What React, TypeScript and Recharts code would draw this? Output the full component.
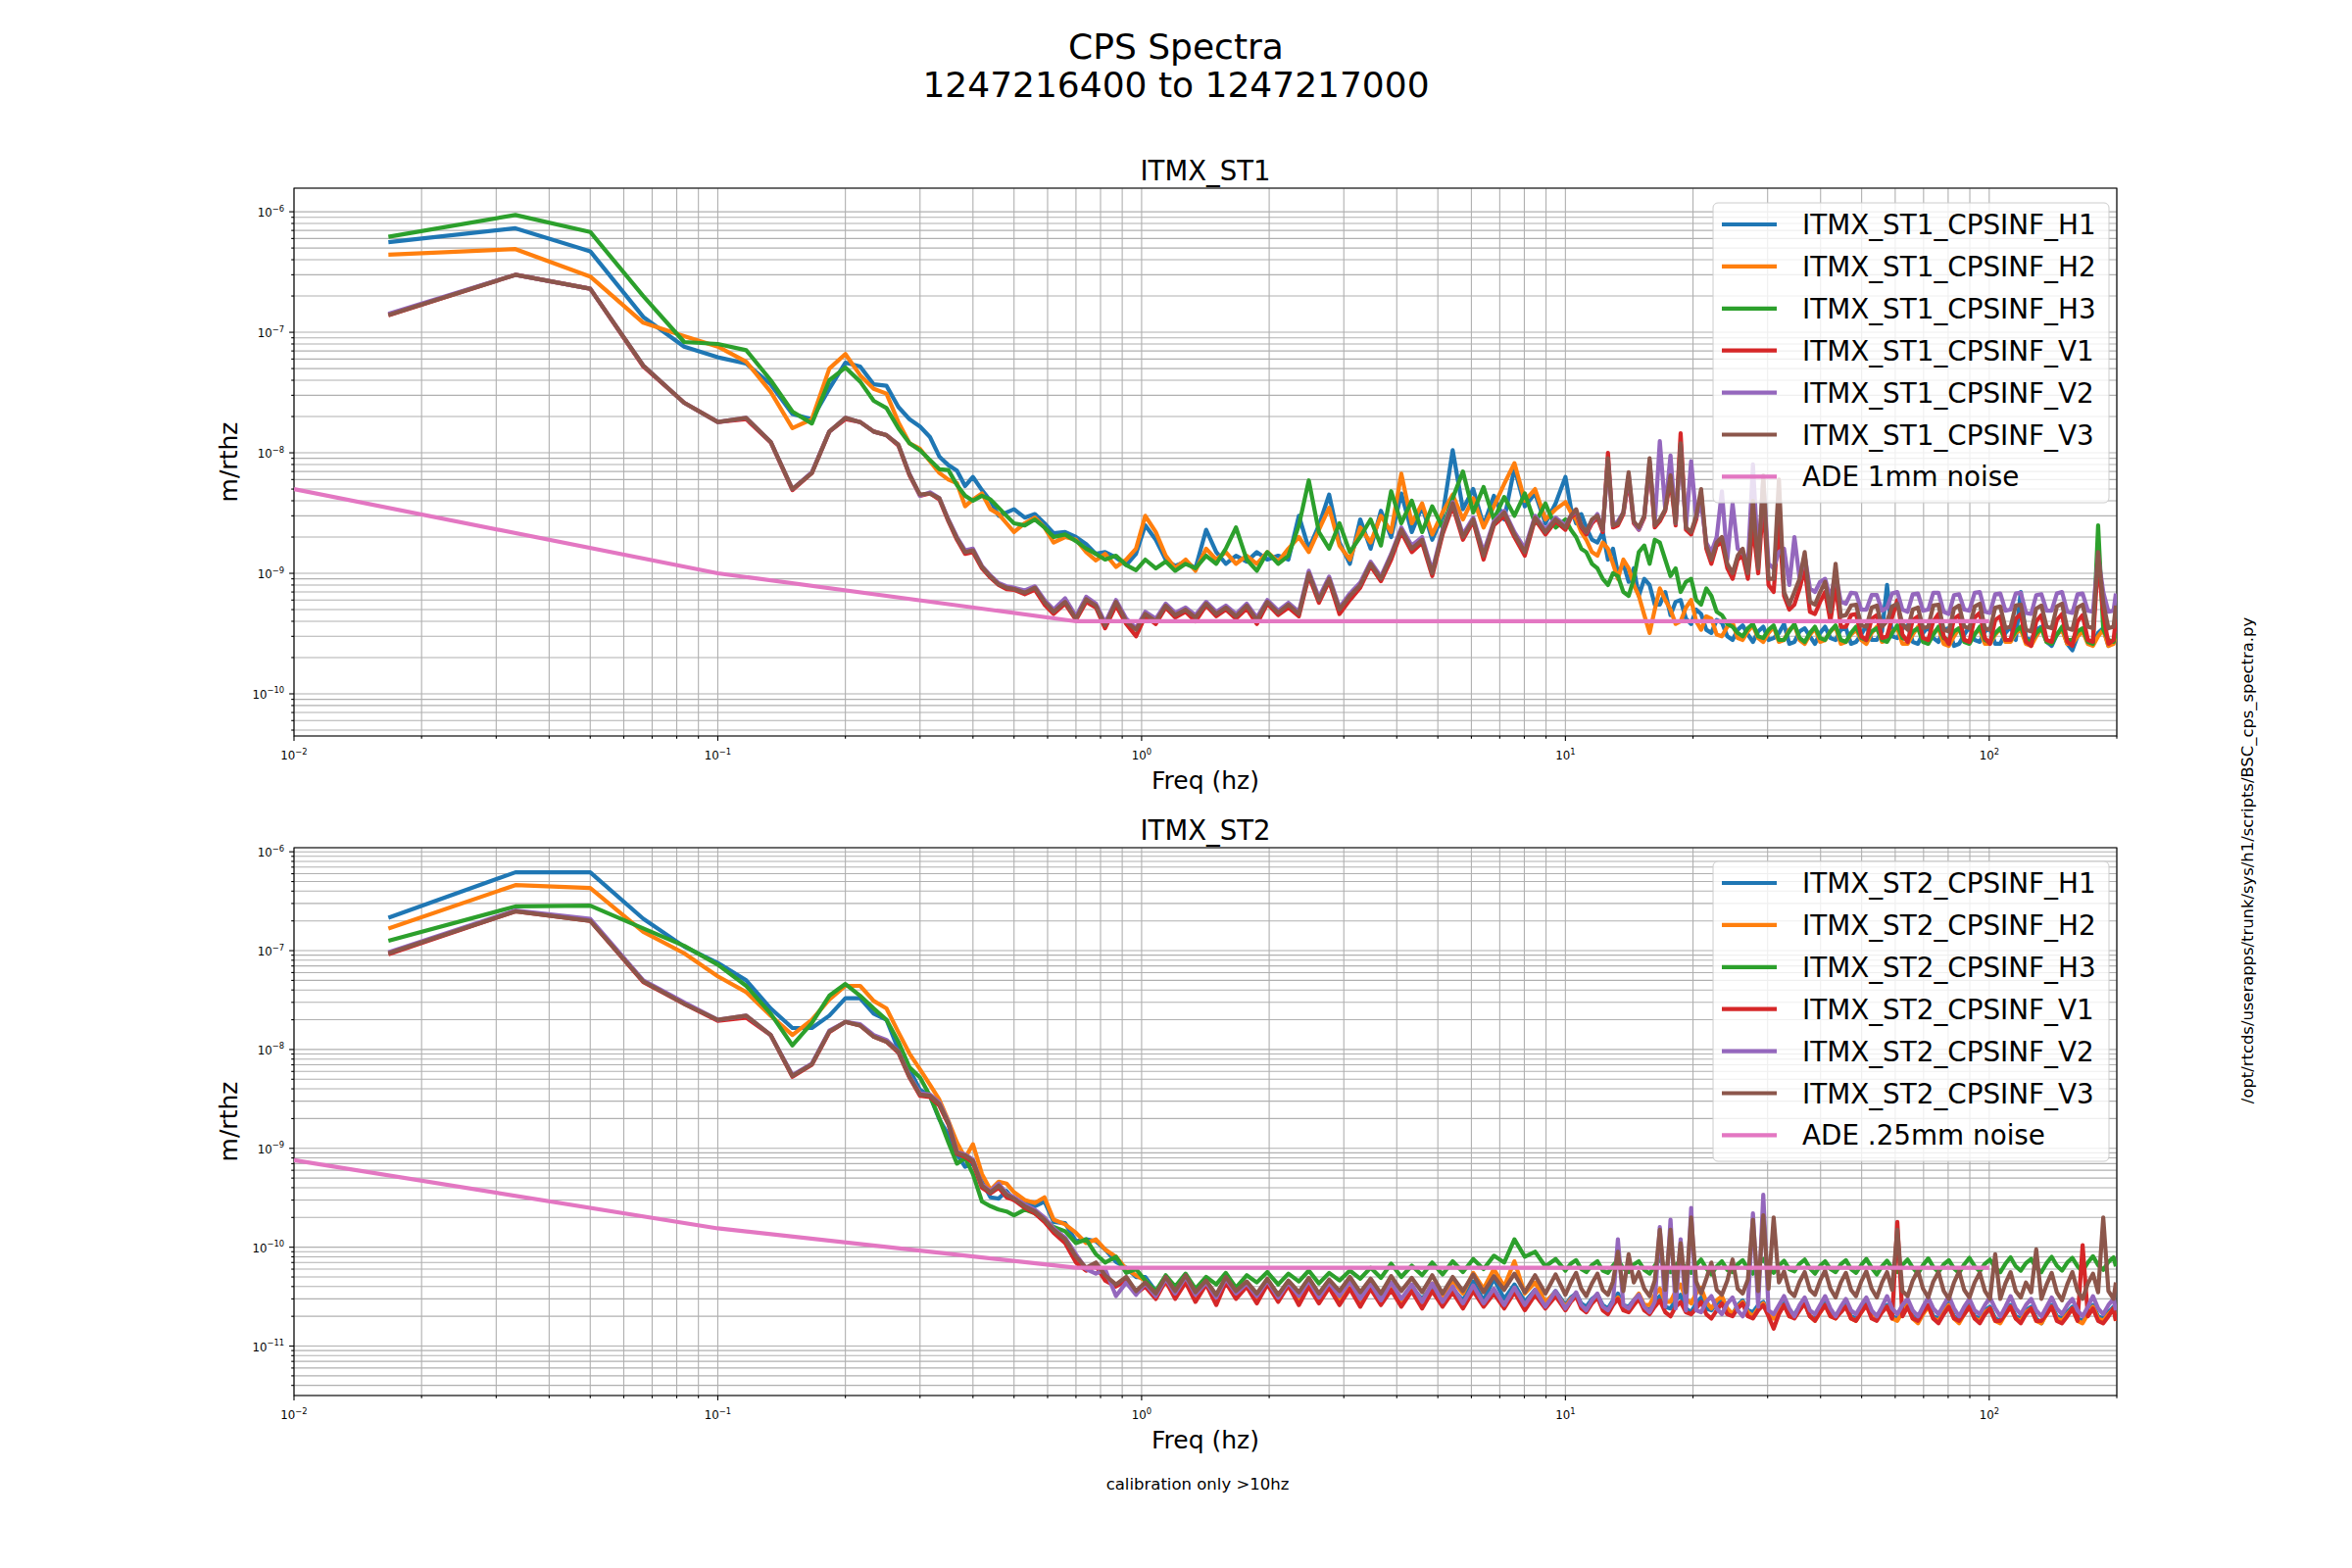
import React from "react";
import { LineChart, Line, XAxis, YAxis, CartesianGrid, ReferenceArea } from "recharts";

// frequency bins (Hz) shared by every CPS channel
const FREQ = [
  0.0167, 0.0333, 0.05, 0.0667, 0.0833, 0.1, 0.1167, 0.1333, 0.15, 0.1667, 0.1833, 0.2,
  0.2167, 0.2333, 0.25, 0.2667, 0.2833, 0.3, 0.3167, 0.3333, 0.35, 0.3667, 0.3833, 0.4,
  0.42, 0.44, 0.46, 0.48, 0.5, 0.53, 0.56, 0.59, 0.62, 0.66, 0.7, 0.74, 0.78, 0.82, 0.87, 0.92, 0.97,
  1.02, 1.08, 1.14, 1.2, 1.27, 1.34, 1.42, 1.5, 1.58, 1.67, 1.77, 1.87, 1.98, 2.1, 2.22, 2.35, 2.48, 2.62, 2.77, 2.93, 3.1,
  3.28, 3.47, 3.67, 3.88, 4.1, 4.34, 4.59, 4.85, 5.13, 5.42, 5.73, 6.06, 6.41, 6.78, 7.17, 7.58, 8.02, 8.48, 8.97, 9.48,
  10, 10.3, 10.6, 10.9, 11.2, 11.55, 11.9, 12.25, 12.6, 12.95, 13.3, 13.7,
  14.1, 14.5, 14.9, 15.35, 15.8, 16.25, 16.7, 17.2, 17.7, 18.2, 18.7, 19.25,
  19.8, 20.35, 20.9, 21.5, 22.1, 22.75, 23.4, 24.1, 24.8, 25.5, 26.2, 26.95,
  27.7, 28.5, 29.3, 30.15, 31, 31.9, 32.8, 33.75, 34.7, 35.7, 36.7, 37.75,
  38.8, 39.9, 41, 42.2, 43.4, 44.65, 45.9, 47.2, 48.5, 49.9, 51.3, 52.8,
  54.3, 55.85, 57.4, 59, 60.7, 62.4, 64.2, 66, 67.9, 69.8, 71.8, 73.8,
  75.9, 78.1, 80.3, 82.6, 84.9, 87.3, 89.8, 92.4, 95, 97.7, 100.4, 103.3,
  106.2, 109.2, 112.3, 115.5, 118.7, 122.1, 125.6, 129.1, 132.8, 136.6, 140.4, 144.4,
  148.5, 152.8, 157.1, 161.6, 166.1, 170.9, 175.7, 180.7, 185.8, 191.1, 196.5, 199,
];

// ITMX_ST1 (m/rthz)
const ST1_H1 = [
  5.6e-7, 7.3e-7, 4.7e-7, 1.34e-7, 7.6e-8, 6.2e-8, 5.5e-8, 3.7e-8, 2.1e-8, 1.9e-8, 3.4e-8, 5.6e-8,
  5.2e-8, 3.7e-8, 3.6e-8, 2.4e-8, 1.9e-8, 1.65e-8, 1.35e-8, 9.3e-9, 7.9e-9, 7.1e-9, 5.3e-9, 6.3e-9,
  4.9e-9, 4.0e-9, 3.0e-9, 3.2e-9, 3.4e-9, 2.9e-9, 3.1e-9, 2.6e-9, 2.15e-9, 2.2e-9, 2.0e-9, 1.75e-9, 1.45e-9, 1.5e-9, 1.35e-9, 1.17e-9, 1.45e-9,
  2.5e-9, 1.9e-9, 1.3e-9, 1.15e-9, 1.25e-9, 1.1e-9, 2.3e-9, 1.5e-9, 1.2e-9, 1.4e-9, 1.25e-9, 1.5e-9, 1.3e-9, 1.4e-9, 1.3e-9, 3.0e-9, 1.6e-9, 2.5e-9, 4.5e-9, 1.8e-9, 1.2e-9,
  2.8e-9, 1.6e-9, 3.3e-9, 2.0e-9, 4.6e-9, 2.2e-9, 3.6e-9, 1.9e-9, 3.0e-9, 1.05e-8, 3.4e-9, 5.0e-9, 2.5e-9, 4.4e-9, 2.8e-9, 7.5e-9, 3.6e-9, 4.6e-9, 2.6e-9, 3.8e-9,
  6.3e-9, 3.5e-9, 2.6e-9, 3.1e-9, 2.4e-9, 1.9e-9, 1.8e-9, 2.2e-9, 1.3e-9, 1.6e-9, 1.0e-9, 1.2e-9,
  8.5e-10, 1.1e-9, 6.5e-10, 9.0e-10, 8.0e-10, 5.5e-10, 5.5e-10, 7.0e-10, 4.5e-10, 5.8e-10, 6.0e-10, 4.2e-10,
  3.8e-10, 5.0e-10, 4.6e-10, 3.4e-10, 3.2e-10, 4.1e-10, 3.9e-10, 3.0e-10, 2.8e-10, 3.4e-10, 3.7e-10, 3.1e-10,
  2.7e-10, 3.3e-10, 3.6e-10, 2.8e-10, 2.9e-10, 3.2e-10, 3.8e-10, 2.6e-10, 2.7e-10, 3.3e-10, 3.5e-10, 3.0e-10,
  2.6e-10, 3.2e-10, 3.6e-10, 2.9e-10, 2.8e-10, 3.4e-10, 3.5e-10, 2.6e-10, 2.7e-10, 3.1e-10, 3.7e-10, 2.8e-10,
  2.8e-10, 3.3e-10, 8.0e-10, 3.0e-10, 2.9e-10, 3.5e-10, 3.7e-10, 2.7e-10, 2.6e-10, 3.2e-10, 3.6e-10, 2.9e-10,
  2.7e-10, 3.4e-10, 3.5e-10, 2.5e-10, 2.6e-10, 3.1e-10, 3.6e-10, 2.8e-10, 2.7e-10, 3.3e-10, 3.5e-10, 2.6e-10,
  2.6e-10, 3.2e-10, 3.6e-10, 2.8e-10, 7.0e-10, 2.9e-10, 2.8e-10, 3.4e-10, 3.6e-10, 2.7e-10, 2.5e-10, 3.1e-10,
  3.5e-10, 2.6e-10, 2.3e-10, 3.0e-10, 3.4e-10, 2.7e-10, 2.6e-10, 3.2e-10, 3.5e-10, 2.5e-10, 2.7e-10, 3.3e-10,
];
const ST1_H2 = [
  4.4e-7, 4.9e-7, 2.9e-7, 1.2e-7, 9.3e-8, 7.6e-8, 5.7e-8, 3.2e-8, 1.6e-8, 1.9e-8, 5.0e-8, 6.6e-8,
  4.4e-8, 3.4e-8, 3.1e-8, 1.8e-8, 1.2e-8, 1.08e-8, 8.5e-9, 6.8e-9, 6.0e-9, 5.6e-9, 3.6e-9, 4.1e-9,
  4.6e-9, 3.4e-9, 3.1e-9, 2.6e-9, 2.2e-9, 2.6e-9, 2.9e-9, 2.4e-9, 1.8e-9, 2.0e-9, 1.9e-9, 1.5e-9, 1.28e-9, 1.45e-9, 1.13e-9, 1.3e-9, 1.6e-9,
  3.0e-9, 2.2e-9, 1.4e-9, 1.1e-9, 1.3e-9, 1.05e-9, 1.6e-9, 1.3e-9, 1.5e-9, 1.2e-9, 1.4e-9, 1.2e-9, 1.5e-9, 1.25e-9, 1.6e-9, 2.0e-9, 1.5e-9, 2.3e-9, 3.5e-9, 1.7e-9, 1.3e-9,
  2.4e-9, 1.8e-9, 3.0e-9, 2.2e-9, 6.7e-9, 2.6e-9, 3.8e-9, 2.1e-9, 3.2e-9, 4.5e-9, 2.8e-9, 4.2e-9, 2.4e-9, 3.6e-9, 5.5e-9, 8.2e-9, 4.0e-9, 5.0e-9, 2.8e-9, 3.4e-9,
  3.9e-9, 3.2e-9, 2.8e-9, 2.2e-9, 1.9e-9, 1.5e-9, 1.4e-9, 1.8e-9, 1.6e-9, 1.2e-9, 9.0e-10, 1.3e-9,
  1.1e-9, 8.0e-10, 6.5e-10, 4.5e-10, 3.2e-10, 5.0e-10, 7.5e-10, 6.0e-10, 5.0e-10, 3.8e-10, 4.0e-10, 5.2e-10,
  6.0e-10, 4.0e-10, 3.4e-10, 4.4e-10, 4.2e-10, 3.1e-10, 3.0e-10, 3.6e-10, 3.9e-10, 2.9e-10, 2.8e-10, 3.3e-10,
  3.7e-10, 2.9e-10, 2.7e-10, 3.2e-10, 3.6e-10, 2.7e-10, 2.8e-10, 3.4e-10, 3.7e-10, 2.8e-10, 2.6e-10, 3.1e-10,
  3.5e-10, 2.7e-10, 2.8e-10, 3.3e-10, 3.6e-10, 2.6e-10, 2.7e-10, 3.1e-10, 3.4e-10, 2.8e-10, 2.6e-10, 3.2e-10,
  3.6e-10, 2.7e-10, 2.8e-10, 3.3e-10, 3.5e-10, 2.6e-10, 2.6e-10, 3.1e-10, 3.6e-10, 2.8e-10, 2.7e-10, 3.2e-10,
  3.5e-10, 2.6e-10, 2.5e-10, 3.0e-10, 3.5e-10, 2.8e-10, 2.7e-10, 3.2e-10, 3.4e-10, 2.6e-10, 2.6e-10, 3.1e-10,
  3.5e-10, 2.7e-10, 2.7e-10, 3.2e-10, 3.4e-10, 2.6e-10, 2.5e-10, 3.0e-10, 3.5e-10, 2.7e-10, 2.7e-10, 3.1e-10,
  3.4e-10, 2.6e-10, 2.6e-10, 3.0e-10, 3.3e-10, 2.6e-10, 2.5e-10, 3.0e-10, 3.4e-10, 2.5e-10, 2.6e-10, 3.1e-10,
];
const ST1_H3 = [
  6.2e-7, 9.4e-7, 6.8e-7, 2.0e-7, 8.3e-8, 8.0e-8, 7.1e-8, 4.0e-8, 2.2e-8, 1.75e-8, 4.0e-8, 5.1e-8,
  3.9e-8, 2.7e-8, 2.35e-8, 1.6e-8, 1.2e-8, 1.05e-8, 8.7e-9, 7.3e-9, 7.2e-9, 5.4e-9, 4.4e-9, 4.0e-9,
  4.4e-9, 4.1e-9, 3.5e-9, 3.0e-9, 2.6e-9, 2.5e-9, 2.8e-9, 2.4e-9, 2.0e-9, 2.1e-9, 1.85e-9, 1.6e-9, 1.45e-9, 1.3e-9, 1.4e-9, 1.17e-9, 1.06e-9,
  1.3e-9, 1.1e-9, 1.25e-9, 1.05e-9, 1.2e-9, 1.1e-9, 1.4e-9, 1.2e-9, 1.6e-9, 2.4e-9, 1.3e-9, 1.05e-9, 1.5e-9, 1.2e-9, 1.4e-9, 2.5e-9, 5.9e-9, 2.2e-9, 1.6e-9, 2.6e-9, 1.5e-9,
  2.0e-9, 2.8e-9, 1.7e-9, 4.8e-9, 2.6e-9, 4.0e-9, 2.2e-9, 3.6e-9, 2.4e-9, 4.2e-9, 7.0e-9, 3.2e-9, 5.2e-9, 2.8e-9, 4.3e-9, 3.0e-9, 4.6e-9, 2.6e-9, 3.8e-9, 2.4e-9,
  2.8e-9, 2.3e-9, 2.0e-9, 1.6e-9, 1.5e-9, 1.2e-9, 1.1e-9, 9.0e-10, 8.0e-10, 1.0e-9, 9.5e-10, 7.0e-10,
  6.5e-10, 9.0e-10, 1.5e-9, 1.7e-9, 1.2e-9, 1.9e-9, 1.8e-9, 1.3e-9, 9.5e-10, 1.1e-9, 7.0e-10, 8.5e-10,
  9.0e-10, 6.0e-10, 5.5e-10, 7.5e-10, 6.5e-10, 4.8e-10, 4.5e-10, 3.8e-10, 3.6e-10, 3.2e-10, 3.0e-10, 3.5e-10,
  3.8e-10, 3.0e-10, 2.9e-10, 3.4e-10, 3.7e-10, 2.8e-10, 2.8e-10, 3.3e-10, 3.8e-10, 2.9e-10, 2.7e-10, 3.2e-10,
  3.6e-10, 2.9e-10, 2.8e-10, 3.3e-10, 3.7e-10, 2.8e-10, 2.7e-10, 3.2e-10, 3.6e-10, 2.9e-10, 2.8e-10, 3.3e-10,
  3.5e-10, 2.8e-10, 2.7e-10, 3.2e-10, 3.7e-10, 2.9e-10, 2.8e-10, 3.3e-10, 3.5e-10, 2.7e-10, 2.6e-10, 3.1e-10,
  3.6e-10, 2.9e-10, 2.8e-10, 3.3e-10, 3.5e-10, 2.7e-10, 2.6e-10, 3.1e-10, 3.6e-10, 2.8e-10, 2.7e-10, 3.2e-10,
  3.5e-10, 2.8e-10, 2.8e-10, 3.3e-10, 3.6e-10, 2.8e-10, 2.7e-10, 3.2e-10, 3.5e-10, 2.7e-10, 2.6e-10, 3.1e-10,
  3.6e-10, 2.8e-10, 2.8e-10, 3.3e-10, 3.5e-10, 2.7e-10, 2.6e-10, 2.5e-9, 3.4e-10, 2.8e-10, 2.7e-10, 3.2e-10,
];
const ST1_V1 = [
  1.38e-7, 3.0e-7, 2.3e-7, 5.2e-8, 2.6e-8, 1.8e-8, 1.9e-8, 1.22e-8, 4.9e-9, 6.8e-9, 1.5e-8, 1.9e-8,
  1.8e-8, 1.5e-8, 1.4e-8, 1.15e-8, 6.5e-9, 4.4e-9, 4.6e-9, 4.1e-9, 2.7e-9, 1.9e-9, 1.45e-9, 1.5e-9,
  1.1e-9, 9.2e-10, 8.0e-10, 7.4e-10, 7.3e-10, 6.7e-10, 7.3e-10, 5.5e-10, 4.6e-10, 5.6e-10, 4.1e-10, 5.8e-10, 5.2e-10, 3.5e-10, 5.4e-10, 3.8e-10, 3.0e-10,
  4.4e-10, 3.8e-10, 5.2e-10, 4.3e-10, 4.8e-10, 4.0e-10, 5.4e-10, 4.4e-10, 5.0e-10, 4.2e-10, 5.1e-10, 3.8e-10, 5.6e-10, 4.5e-10, 5.2e-10, 4.4e-10, 9.5e-10, 5.7e-10, 8.6e-10, 4.6e-10, 6.0e-10,
  7.6e-10, 1.15e-9, 8.6e-10, 1.3e-9, 2.2e-9, 1.5e-9, 1.8e-9, 9.5e-10, 2.1e-9, 3.6e-9, 1.9e-9, 2.7e-9, 1.3e-9, 2.5e-9, 3.0e-9, 2.0e-9, 1.4e-9, 2.8e-9, 2.1e-9, 2.7e-9,
  2.3e-9, 2.9e-9, 3.2e-9, 2.4e-9, 2.1e-9, 2.6e-9, 2.9e-9, 2.2e-9, 1.0e-8, 2.4e-9, 2.5e-9, 3.1e-9,
  6.0e-9, 2.6e-9, 2.3e-9, 2.9e-9, 8.0e-9, 2.4e-9, 2.7e-9, 3.3e-9, 6.0e-9, 2.5e-9, 1.45e-8, 2.3e-9,
  2.1e-9, 2.8e-9, 4.6e-9, 1.6e-9, 1.2e-9, 1.7e-9, 1.8e-9, 1.1e-9, 9.0e-10, 1.3e-9, 1.4e-9, 9.0e-10,
  2.5e-9, 1.0e-9, 4.0e-9, 8.0e-10, 7.0e-10, 2.8e-9, 6.5e-10, 5.0e-10, 5.5e-10, 7.5e-10, 1.1e-9, 4.8e-10,
  4.6e-10, 5.8e-10, 7.0e-10, 4.0e-10, 8.0e-10, 3.6e-10, 3.6e-10, 4.5e-10, 4.6e-10, 3.0e-10, 2.8e-10, 4.2e-10,
  4.5e-10, 2.9e-10, 3.0e-10, 4.3e-10, 6.0e-10, 3.1e-10, 2.7e-10, 4.1e-10, 4.4e-10, 2.9e-10, 2.8e-10, 4.0e-10,
  4.6e-10, 3.0e-10, 2.6e-10, 4.2e-10, 4.5e-10, 2.8e-10, 2.7e-10, 4.3e-10, 4.7e-10, 2.9e-10, 2.6e-10, 4.1e-10,
  4.4e-10, 2.8e-10, 2.8e-10, 4.2e-10, 4.6e-10, 2.7e-10, 2.5e-10, 4.0e-10, 4.5e-10, 2.8e-10, 2.7e-10, 4.1e-10,
  4.6e-10, 2.7e-10, 2.5e-10, 4.0e-10, 4.5e-10, 2.8e-10, 2.7e-10, 1.3e-9, 4.6e-10, 2.6e-10, 2.8e-10, 4.2e-10,
];
const ST1_V2 = [
  1.42e-7, 3.0e-7, 2.3e-7, 5.3e-8, 2.6e-8, 1.8e-8, 1.95e-8, 1.23e-8, 5.0e-9, 6.9e-9, 1.5e-8, 1.95e-8,
  1.8e-8, 1.5e-8, 1.4e-8, 1.17e-8, 6.7e-9, 4.4e-9, 4.7e-9, 4.2e-9, 2.8e-9, 2.0e-9, 1.55e-9, 1.6e-9,
  1.15e-9, 9.6e-10, 8.3e-10, 7.8e-10, 7.6e-10, 7.2e-10, 7.8e-10, 6.0e-10, 5.0e-10, 6.2e-10, 4.4e-10, 6.4e-10, 5.6e-10, 3.9e-10, 6.0e-10, 4.2e-10, 3.5e-10,
  4.8e-10, 4.2e-10, 5.6e-10, 4.7e-10, 5.2e-10, 4.5e-10, 5.8e-10, 4.8e-10, 5.4e-10, 4.6e-10, 5.6e-10, 4.3e-10, 6.0e-10, 4.9e-10, 5.7e-10, 4.8e-10, 1.05e-9, 6.3e-10, 9.4e-10, 5.2e-10, 6.8e-10,
  8.4e-10, 1.25e-9, 9.4e-10, 1.45e-9, 2.4e-9, 1.7e-9, 2.0e-9, 1.05e-9, 2.3e-9, 3.9e-9, 2.1e-9, 2.9e-9, 1.5e-9, 2.7e-9, 3.3e-9, 2.2e-9, 1.6e-9, 3.0e-9, 2.3e-9, 2.9e-9,
  2.5e-9, 3.0e-9, 3.3e-9, 2.5e-9, 2.2e-9, 2.7e-9, 3.1e-9, 2.3e-9, 8.5e-9, 2.5e-9, 2.7e-9, 3.2e-9,
  6.5e-9, 2.7e-9, 2.3e-9, 3.0e-9, 8.5e-9, 2.6e-9, 1.25e-8, 3.4e-9, 9.5e-9, 2.6e-9, 1.1e-8, 2.4e-9,
  8.5e-9, 2.9e-9, 3.8e-9, 1.8e-9, 1.5e-9, 2.0e-9, 4.8e-9, 1.3e-9, 3.8e-9, 1.6e-9, 1.5e-9, 1.2e-9,
  8.0e-9, 1.3e-9, 6.0e-9, 1.2e-9, 1.1e-9, 1.5e-9, 1.6e-9, 8.0e-10, 2.0e-9, 9.0e-10, 1.4e-9, 7.5e-10,
  7.0e-10, 8.5e-10, 9.0e-10, 6.2e-10, 1.0e-9, 5.8e-10, 5.6e-10, 6.9e-10, 6.8e-10, 5.0e-10, 5.0e-10, 6.6e-10,
  6.6e-10, 4.9e-10, 5.2e-10, 6.8e-10, 7.0e-10, 5.0e-10, 4.8e-10, 6.7e-10, 6.8e-10, 4.9e-10, 5.0e-10, 6.9e-10,
  6.9e-10, 4.8e-10, 4.6e-10, 6.6e-10, 6.7e-10, 5.0e-10, 4.9e-10, 6.9e-10, 7.0e-10, 4.8e-10, 4.7e-10, 6.7e-10,
  6.8e-10, 4.9e-10, 5.0e-10, 6.8e-10, 6.9e-10, 4.7e-10, 4.6e-10, 6.6e-10, 6.7e-10, 4.9e-10, 4.9e-10, 6.8e-10,
  7.0e-10, 4.8e-10, 4.7e-10, 6.7e-10, 6.8e-10, 4.9e-10, 4.8e-10, 1.4e-9, 7.0e-10, 4.8e-10, 4.9e-10, 6.8e-10,
];
const ST1_V3 = [
  1.39e-7, 3.0e-7, 2.3e-7, 5.3e-8, 2.6e-8, 1.8e-8, 1.95e-8, 1.23e-8, 5.0e-9, 6.8e-9, 1.5e-8, 1.95e-8,
  1.8e-8, 1.5e-8, 1.4e-8, 1.17e-8, 6.6e-9, 4.5e-9, 4.6e-9, 4.2e-9, 2.75e-9, 1.95e-9, 1.5e-9, 1.55e-9,
  1.13e-9, 9.4e-10, 8.1e-10, 7.6e-10, 7.4e-10, 6.9e-10, 7.6e-10, 5.8e-10, 4.8e-10, 5.8e-10, 4.2e-10, 6.1e-10, 5.4e-10, 3.7e-10, 5.8e-10, 4.0e-10, 3.4e-10,
  4.6e-10, 4.0e-10, 5.4e-10, 4.5e-10, 5.0e-10, 4.3e-10, 5.6e-10, 4.6e-10, 5.2e-10, 4.4e-10, 5.4e-10, 4.1e-10, 5.8e-10, 4.7e-10, 5.5e-10, 4.6e-10, 1.0e-9, 6.0e-10, 9.0e-10, 5.0e-10, 6.5e-10,
  8.0e-10, 1.2e-9, 9.0e-10, 1.4e-9, 2.3e-9, 1.6e-9, 1.9e-9, 1.0e-9, 2.2e-9, 3.8e-9, 2.0e-9, 2.8e-9, 1.4e-9, 2.6e-9, 3.2e-9, 2.1e-9, 1.5e-9, 2.9e-9, 2.2e-9, 2.8e-9,
  2.4e-9, 3.0e-9, 3.4e-9, 2.5e-9, 2.2e-9, 2.8e-9, 3.0e-9, 2.3e-9, 9.0e-9, 2.5e-9, 2.6e-9, 3.2e-9,
  6.9e-9, 2.7e-9, 2.4e-9, 3.0e-9, 9.0e-9, 2.5e-9, 2.8e-9, 3.4e-9, 6.5e-9, 2.6e-9, 1.2e-8, 2.4e-9,
  2.2e-9, 3.0e-9, 5.0e-9, 1.7e-9, 1.3e-9, 1.8e-9, 2.0e-9, 1.2e-9, 1.0e-9, 1.4e-9, 1.6e-9, 1.0e-9,
  4.0e-9, 1.1e-9, 6.5e-9, 9.0e-10, 9.0e-10, 6.0e-9, 7.0e-10, 5.5e-10, 7.0e-10, 9.0e-10, 1.5e-9, 5.8e-10,
  5.5e-10, 7.0e-10, 8.5e-10, 4.8e-10, 1.2e-9, 4.4e-10, 4.5e-10, 5.4e-10, 5.5e-10, 3.7e-10, 3.6e-10, 5.2e-10,
  5.4e-10, 3.6e-10, 4.0e-10, 5.3e-10, 5.6e-10, 3.8e-10, 3.4e-10, 5.0e-10, 5.2e-10, 3.5e-10, 3.6e-10, 5.4e-10,
  5.5e-10, 3.4e-10, 3.3e-10, 5.1e-10, 5.4e-10, 3.6e-10, 3.5e-10, 5.3e-10, 5.6e-10, 3.5e-10, 3.4e-10, 5.2e-10,
  5.3e-10, 3.5e-10, 3.6e-10, 5.4e-10, 5.5e-10, 3.4e-10, 3.3e-10, 5.1e-10, 5.4e-10, 3.6e-10, 3.5e-10, 5.3e-10,
  5.6e-10, 3.5e-10, 3.4e-10, 5.2e-10, 5.5e-10, 3.6e-10, 3.5e-10, 1.5e-9, 5.7e-10, 3.5e-10, 3.6e-10, 5.4e-10,
];

// ITMX_ST2 (m/rthz)
const ST2_H1 = [
  2.15e-7, 6.2e-7, 6.2e-7, 2.1e-7, 1.1e-7, 7.5e-8, 5.0e-8, 2.6e-8, 1.65e-8, 1.65e-8, 2.2e-8, 3.3e-8,
  3.3e-8, 2.3e-8, 2.0e-8, 1.0e-8, 6.3e-9, 3.9e-9, 3.4e-9, 1.96e-9, 1.37e-9, 8.7e-10, 6.5e-10, 7.0e-10,
  4.6e-10, 3.2e-10, 3.1e-10, 3.7e-10, 3.0e-10, 2.8e-10, 2.6e-10, 2.9e-10, 1.8e-10, 1.75e-10, 1.15e-10, 1.2e-10, 1.15e-10, 9.5e-11, 7.1e-11, 6.2e-11, 5.0e-11,
  5.0e-11, 3.6e-11, 4.6e-11, 3.4e-11, 4.8e-11, 3.5e-11, 4.4e-11, 3.3e-11, 4.7e-11, 3.4e-11, 4.3e-11, 3.2e-11, 4.5e-11, 3.3e-11, 4.2e-11, 3.1e-11, 4.4e-11, 3.2e-11, 4.1e-11, 3.0e-11, 4.3e-11,
  3.1e-11, 4.0e-11, 3.0e-11, 4.2e-11, 2.9e-11, 3.9e-11, 3.0e-11, 4.1e-11, 2.8e-11, 3.8e-11, 2.9e-11, 4.5e-11, 2.9e-11, 4.8e-11, 3.0e-11, 4.2e-11, 2.8e-11, 3.7e-11, 2.7e-11, 3.6e-11,
  2.6e-11, 3.1e-11, 3.4e-11, 2.7e-11, 2.5e-11, 3.0e-11, 3.3e-11, 2.6e-11, 2.4e-11, 2.9e-11, 3.4e-11, 2.6e-11,
  2.5e-11, 2.9e-11, 3.3e-11, 2.5e-11, 2.3e-11, 2.8e-11, 3.2e-11, 2.5e-11, 2.4e-11, 2.9e-11, 3.3e-11, 2.4e-11,
  2.2e-11, 2.7e-11, 3.1e-11, 2.4e-11, 2.3e-11, 2.7e-11, 3.0e-11, 2.3e-11, 2.1e-11, 2.6e-11, 2.9e-11, 2.3e-11,
  2.2e-11, 2.6e-11, 2.8e-11, 2.1e-11, 2.0e-11, 2.5e-11, 2.7e-11, 2.1e-11, 2.1e-11, 2.5e-11, 2.8e-11, 2.0e-11,
  1.9e-11, 2.4e-11, 2.7e-11, 2.1e-11, 2.0e-11, 2.4e-11, 2.6e-11, 2.0e-11, 1.9e-11, 2.3e-11, 2.7e-11, 2.1e-11,
  2.0e-11, 2.4e-11, 2.6e-11, 2.0e-11, 1.9e-11, 2.3e-11, 2.7e-11, 2.0e-11, 1.8e-11, 2.3e-11, 2.6e-11, 2.0e-11,
  1.9e-11, 2.3e-11, 2.7e-11, 2.0e-11, 1.8e-11, 2.2e-11, 2.6e-11, 2.0e-11, 1.9e-11, 2.3e-11, 2.5e-11, 1.9e-11,
  1.8e-11, 2.2e-11, 2.6e-11, 2.0e-11, 1.9e-11, 2.3e-11, 2.5e-11, 1.9e-11, 1.7e-11, 2.2e-11, 2.6e-11, 2.0e-11,
  1.9e-11, 2.2e-11, 2.5e-11, 1.9e-11, 1.8e-11, 2.2e-11, 2.6e-11, 2.0e-11, 1.9e-11, 2.2e-11, 2.5e-11, 1.9e-11,
];
const ST2_H2 = [
  1.67e-7, 4.6e-7, 4.3e-7, 1.55e-7, 9.4e-8, 5.5e-8, 3.8e-8, 2.2e-8, 1.4e-8, 2.0e-8, 3.2e-8, 4.4e-8,
  4.4e-8, 3.1e-8, 2.6e-8, 1.5e-8, 9.1e-9, 6.3e-9, 4.4e-9, 3.1e-9, 1.9e-9, 1.15e-9, 8.0e-10, 1.1e-9,
  5.5e-10, 3.8e-10, 4.6e-10, 4.4e-10, 3.6e-10, 3.0e-10, 2.8e-10, 3.2e-10, 1.9e-10, 1.7e-10, 1.4e-10, 1.1e-10, 1.2e-10, 9.5e-11, 8.0e-11, 6.0e-11, 5.2e-11,
  4.6e-11, 3.4e-11, 4.4e-11, 3.2e-11, 4.6e-11, 3.3e-11, 4.2e-11, 3.1e-11, 4.5e-11, 3.2e-11, 4.2e-11, 3.0e-11, 4.3e-11, 3.1e-11, 4.0e-11, 2.9e-11, 4.2e-11, 3.0e-11, 4.0e-11, 2.8e-11, 4.1e-11,
  2.9e-11, 3.9e-11, 2.8e-11, 4.0e-11, 2.7e-11, 3.8e-11, 2.8e-11, 4.3e-11, 3.0e-11, 4.6e-11, 3.4e-11, 5.5e-11, 3.8e-11, 6.0e-11, 4.0e-11, 7.2e-11, 3.4e-11, 4.4e-11, 2.8e-11, 3.5e-11,
  2.5e-11, 3.0e-11, 3.3e-11, 2.5e-11, 2.3e-11, 2.8e-11, 3.2e-11, 2.4e-11, 2.2e-11, 2.7e-11, 3.1e-11, 2.4e-11,
  2.3e-11, 2.9e-11, 3.4e-11, 2.6e-11, 2.6e-11, 3.3e-11, 3.8e-11, 2.8e-11, 2.8e-11, 3.6e-11, 4.2e-11, 3.0e-11,
  2.7e-11, 3.4e-11, 3.9e-11, 2.8e-11, 2.4e-11, 2.9e-11, 3.2e-11, 2.4e-11, 2.1e-11, 2.5e-11, 2.8e-11, 2.2e-11,
  2.0e-11, 2.4e-11, 2.7e-11, 2.1e-11, 1.9e-11, 2.3e-11, 2.6e-11, 2.0e-11, 2.0e-11, 2.4e-11, 2.7e-11, 2.0e-11,
  1.8e-11, 2.2e-11, 2.6e-11, 2.0e-11, 1.9e-11, 2.3e-11, 2.5e-11, 1.9e-11, 1.8e-11, 2.2e-11, 2.6e-11, 2.0e-11,
  1.9e-11, 2.3e-11, 2.5e-11, 1.9e-11, 1.8e-11, 2.2e-11, 2.6e-11, 1.9e-11, 1.7e-11, 2.1e-11, 2.5e-11, 1.9e-11,
  1.8e-11, 2.2e-11, 2.6e-11, 1.9e-11, 1.7e-11, 2.1e-11, 2.5e-11, 1.9e-11, 1.8e-11, 2.2e-11, 2.4e-11, 1.8e-11,
  1.7e-11, 2.1e-11, 2.5e-11, 1.9e-11, 1.8e-11, 2.2e-11, 2.4e-11, 1.8e-11, 1.7e-11, 2.1e-11, 2.5e-11, 1.9e-11,
  1.8e-11, 2.1e-11, 2.4e-11, 1.8e-11, 1.7e-11, 2.1e-11, 2.5e-11, 1.9e-11, 1.8e-11, 2.1e-11, 2.4e-11, 1.8e-11,
];
const ST2_H3 = [
  1.26e-7, 2.8e-7, 2.85e-7, 1.68e-7, 1.12e-7, 7.2e-8, 4.4e-8, 2.3e-8, 1.1e-8, 1.85e-8, 3.5e-8, 4.6e-8,
  3.5e-8, 2.6e-8, 2.0e-8, 1.2e-8, 6.6e-9, 5.2e-9, 3.4e-9, 2.0e-9, 1.15e-9, 7.0e-10, 8.0e-10, 5.5e-10,
  2.9e-10, 2.6e-10, 2.4e-10, 2.3e-10, 2.1e-10, 2.4e-10, 2.2e-10, 1.9e-10, 1.6e-10, 1.45e-10, 1.1e-10, 1.2e-10, 8.5e-11, 7.0e-11, 8.0e-11, 5.5e-11, 6.0e-11,
  4.6e-11, 3.6e-11, 5.2e-11, 4.0e-11, 5.4e-11, 3.8e-11, 5.0e-11, 4.2e-11, 5.5e-11, 3.9e-11, 5.2e-11, 4.4e-11, 5.6e-11, 4.2e-11, 5.4e-11, 4.5e-11, 5.8e-11, 4.3e-11, 5.5e-11, 4.6e-11, 5.8e-11,
  4.8e-11, 6.2e-11, 4.9e-11, 6.8e-11, 5.0e-11, 6.5e-11, 5.2e-11, 7.0e-11, 5.3e-11, 7.2e-11, 5.6e-11, 7.6e-11, 6.0e-11, 8.2e-11, 7.0e-11, 1.2e-10, 8.0e-11, 9.0e-11, 6.4e-11, 7.6e-11,
  5.8e-11, 6.8e-11, 7.4e-11, 6.0e-11, 5.6e-11, 6.6e-11, 7.2e-11, 5.8e-11, 5.5e-11, 6.5e-11, 7.5e-11, 6.1e-11,
  5.6e-11, 6.7e-11, 7.2e-11, 5.9e-11, 5.4e-11, 6.5e-11, 7.6e-11, 6.2e-11, 5.6e-11, 6.6e-11, 7.3e-11, 6.0e-11,
  5.5e-11, 6.6e-11, 7.5e-11, 6.1e-11, 5.3e-11, 6.4e-11, 7.2e-11, 5.9e-11, 5.6e-11, 6.7e-11, 7.4e-11, 6.0e-11,
  5.4e-11, 6.6e-11, 7.6e-11, 6.2e-11, 5.5e-11, 6.5e-11, 7.3e-11, 6.0e-11, 5.7e-11, 6.8e-11, 7.5e-11, 6.1e-11,
  5.4e-11, 6.5e-11, 7.2e-11, 6.0e-11, 5.6e-11, 6.7e-11, 7.4e-11, 6.0e-11, 5.5e-11, 6.6e-11, 7.6e-11, 6.2e-11,
  5.3e-11, 6.4e-11, 7.3e-11, 6.1e-11, 5.6e-11, 6.6e-11, 7.5e-11, 6.2e-11, 5.4e-11, 6.6e-11, 7.7e-11, 6.3e-11,
  5.6e-11, 6.7e-11, 7.4e-11, 6.1e-11, 5.5e-11, 6.7e-11, 7.8e-11, 6.4e-11, 5.7e-11, 6.8e-11, 7.5e-11, 6.2e-11,
  5.6e-11, 6.8e-11, 7.9e-11, 6.4e-11, 5.8e-11, 6.9e-11, 7.6e-11, 6.2e-11, 5.6e-11, 6.9e-11, 8.0e-11, 6.5e-11,
  5.8e-11, 7.0e-11, 7.8e-11, 6.4e-11, 5.7e-11, 7.0e-11, 8.1e-11, 6.6e-11, 5.9e-11, 7.1e-11, 7.9e-11, 6.4e-11,
];
const ST2_V1 = [
  9.2e-8, 2.5e-7, 2.0e-7, 4.8e-8, 2.9e-8, 1.95e-8, 2.1e-8, 1.4e-8, 5.3e-9, 7.0e-9, 1.5e-8, 1.9e-8,
  1.75e-8, 1.35e-8, 1.2e-8, 9.3e-9, 5.2e-9, 3.4e-9, 3.3e-9, 2.7e-9, 1.75e-9, 8.8e-10, 8.2e-10, 7.2e-10,
  4.0e-10, 3.5e-10, 4.0e-10, 3.2e-10, 3.0e-10, 2.5e-10, 2.2e-10, 1.8e-10, 1.4e-10, 1.1e-10, 7.0e-11, 5.8e-11, 6.5e-11, 4.6e-11, 4.0e-11, 4.6e-11, 3.4e-11,
  4.0e-11, 3.0e-11, 4.6e-11, 3.0e-11, 4.4e-11, 2.8e-11, 4.2e-11, 2.6e-11, 4.4e-11, 3.0e-11, 4.0e-11, 2.7e-11, 4.2e-11, 2.8e-11, 4.1e-11, 2.6e-11, 4.0e-11, 2.7e-11, 3.9e-11, 2.6e-11, 3.8e-11,
  2.5e-11, 3.8e-11, 2.6e-11, 3.7e-11, 2.5e-11, 3.6e-11, 2.4e-11, 3.6e-11, 2.5e-11, 3.5e-11, 2.4e-11, 3.6e-11, 2.5e-11, 3.4e-11, 2.4e-11, 3.5e-11, 2.3e-11, 3.3e-11, 2.4e-11, 3.2e-11,
  2.3e-11, 2.8e-11, 3.2e-11, 2.4e-11, 2.2e-11, 2.7e-11, 3.1e-11, 2.3e-11, 2.1e-11, 2.6e-11, 3.0e-11, 2.3e-11,
  2.2e-11, 2.6e-11, 3.0e-11, 2.3e-11, 2.1e-11, 2.5e-11, 2.9e-11, 2.2e-11, 2.0e-11, 2.5e-11, 2.8e-11, 2.2e-11,
  2.1e-11, 2.4e-11, 2.8e-11, 2.1e-11, 1.9e-11, 2.3e-11, 2.7e-11, 2.1e-11, 2.0e-11, 2.4e-11, 2.7e-11, 2.0e-11,
  1.9e-11, 2.3e-11, 2.6e-11, 2.0e-11, 1.5e-11, 2.1e-11, 2.6e-11, 2.0e-11, 1.9e-11, 2.3e-11, 2.7e-11, 2.0e-11,
  1.8e-11, 2.2e-11, 2.6e-11, 2.0e-11, 1.9e-11, 2.2e-11, 2.5e-11, 1.9e-11, 1.8e-11, 2.2e-11, 2.6e-11, 1.9e-11,
  1.8e-11, 2.2e-11, 2.5e-11, 1.9e-11, 1.8e-10, 2.0e-11, 2.5e-11, 1.9e-11, 1.8e-11, 2.2e-11, 2.6e-11, 1.9e-11,
  1.7e-11, 2.1e-11, 2.5e-11, 1.9e-11, 1.8e-11, 2.1e-11, 2.5e-11, 1.9e-11, 1.7e-11, 2.1e-11, 2.4e-11, 1.8e-11,
  1.8e-11, 2.1e-11, 2.5e-11, 1.9e-11, 1.7e-11, 2.1e-11, 2.4e-11, 1.8e-11, 1.8e-11, 2.1e-11, 2.5e-11, 1.8e-11,
  1.7e-11, 2.0e-11, 2.4e-11, 1.8e-11, 1.05e-10, 2.0e-11, 2.4e-11, 1.8e-11, 1.7e-11, 2.0e-11, 2.4e-11, 1.8e-11,
];
const ST2_V2 = [
  9.6e-8, 2.55e-7, 2.1e-7, 5.0e-8, 3.0e-8, 2.0e-8, 2.2e-8, 1.4e-8, 5.5e-9, 7.2e-9, 1.55e-8, 1.9e-8,
  1.8e-8, 1.4e-8, 1.25e-8, 9.6e-9, 5.4e-9, 3.6e-9, 3.5e-9, 2.9e-9, 1.85e-9, 9.2e-10, 8.7e-10, 7.7e-10,
  4.3e-10, 3.7e-10, 4.4e-10, 3.5e-10, 3.2e-10, 2.7e-10, 2.4e-10, 2.0e-10, 1.55e-10, 1.25e-10, 8.5e-11, 6.0e-11, 5.4e-11, 6.0e-11, 3.2e-11, 4.4e-11, 3.3e-11,
  4.3e-11, 3.2e-11, 4.8e-11, 3.4e-11, 5.0e-11, 3.3e-11, 4.4e-11, 3.1e-11, 4.8e-11, 3.4e-11, 4.3e-11, 3.2e-11, 4.6e-11, 3.1e-11, 4.4e-11, 3.2e-11, 4.6e-11, 3.1e-11, 4.4e-11, 3.2e-11, 4.5e-11,
  3.0e-11, 4.3e-11, 2.9e-11, 4.4e-11, 3.0e-11, 4.2e-11, 2.8e-11, 4.3e-11, 2.8e-11, 4.0e-11, 2.7e-11, 4.1e-11, 2.7e-11, 3.8e-11, 2.6e-11, 3.9e-11, 2.6e-11, 3.7e-11, 2.5e-11, 3.6e-11,
  2.4e-11, 2.9e-11, 3.5e-11, 2.6e-11, 2.3e-11, 2.9e-11, 3.4e-11, 2.5e-11, 2.3e-11, 2.8e-11, 1.2e-10, 2.6e-11,
  2.4e-11, 2.9e-11, 3.3e-11, 2.5e-11, 2.2e-11, 2.8e-11, 1.6e-10, 2.5e-11, 1.9e-10, 2.4e-11, 1.2e-10, 2.3e-11,
  2.5e-10, 2.3e-11, 2.2e-11, 2.8e-11, 3.2e-11, 2.4e-11, 2.1e-11, 2.7e-11, 3.1e-11, 2.3e-11, 2.0e-11, 2.6e-11,
  2.2e-10, 2.5e-11, 3.4e-10, 2.3e-11, 2.1e-11, 2.6e-11, 3.2e-11, 2.4e-11, 2.0e-11, 2.6e-11, 3.1e-11, 2.3e-11,
  2.1e-11, 2.6e-11, 3.2e-11, 2.4e-11, 2.0e-11, 2.5e-11, 3.0e-11, 2.3e-11, 2.1e-11, 2.6e-11, 3.1e-11, 2.3e-11,
  2.0e-11, 2.5e-11, 3.2e-11, 2.4e-11, 2.1e-11, 2.6e-11, 3.0e-11, 2.3e-11, 2.0e-11, 2.5e-11, 3.1e-11, 2.4e-11,
  2.1e-11, 2.6e-11, 3.2e-11, 2.4e-11, 2.0e-11, 2.5e-11, 3.0e-11, 2.3e-11, 2.1e-11, 2.6e-11, 3.1e-11, 2.4e-11,
  2.0e-11, 2.5e-11, 3.2e-11, 2.4e-11, 2.1e-11, 2.6e-11, 3.0e-11, 2.3e-11, 2.0e-11, 2.5e-11, 3.1e-11, 2.4e-11,
  2.1e-11, 2.6e-11, 3.0e-11, 2.3e-11, 2.0e-11, 2.5e-11, 3.2e-11, 2.4e-11, 2.1e-11, 2.6e-11, 3.0e-11, 2.3e-11,
];
const ST2_V3 = [
  9.4e-8, 2.5e-7, 2.0e-7, 4.9e-8, 2.9e-8, 2.0e-8, 2.2e-8, 1.4e-8, 5.4e-9, 7.1e-9, 1.52e-8, 1.9e-8,
  1.75e-8, 1.35e-8, 1.2e-8, 9.5e-9, 5.3e-9, 3.5e-9, 3.4e-9, 2.8e-9, 1.8e-9, 9.0e-10, 8.5e-10, 7.5e-10,
  4.2e-10, 3.6e-10, 4.2e-10, 3.4e-10, 3.1e-10, 2.6e-10, 2.3e-10, 1.9e-10, 1.5e-10, 1.2e-10, 8.0e-11, 6.2e-11, 7.0e-11, 5.2e-11, 4.2e-11, 5.0e-11, 3.6e-11,
  4.4e-11, 3.4e-11, 5.0e-11, 3.6e-11, 5.2e-11, 3.5e-11, 4.6e-11, 3.3e-11, 5.0e-11, 3.6e-11, 4.5e-11, 3.4e-11, 4.8e-11, 3.3e-11, 4.6e-11, 3.5e-11, 4.9e-11, 3.4e-11, 4.7e-11, 3.6e-11, 5.0e-11,
  3.5e-11, 4.8e-11, 3.4e-11, 5.1e-11, 3.6e-11, 4.9e-11, 3.5e-11, 5.2e-11, 3.4e-11, 5.0e-11, 3.6e-11, 5.3e-11, 3.5e-11, 5.1e-11, 3.7e-11, 5.4e-11, 3.5e-11, 5.2e-11, 3.4e-11, 5.3e-11,
  3.3e-11, 4.4e-11, 5.5e-11, 3.8e-11, 3.2e-11, 4.3e-11, 5.4e-11, 3.7e-11, 3.3e-11, 4.5e-11, 9.0e-11, 3.6e-11,
  8.5e-11, 4.4e-11, 5.6e-11, 3.8e-11, 3.2e-11, 4.6e-11, 1.5e-10, 3.7e-11, 1.5e-10, 3.6e-11, 1.1e-10, 3.5e-11,
  2.0e-10, 4.5e-11, 3.4e-11, 4.8e-11, 7.0e-11, 3.7e-11, 3.3e-11, 4.6e-11, 7.5e-11, 3.8e-11, 3.4e-11, 4.7e-11,
  1.9e-10, 3.6e-11, 2.1e-10, 3.8e-11, 2.0e-10, 4.4e-11, 5.7e-11, 3.6e-11, 3.2e-11, 4.5e-11, 5.6e-11, 3.7e-11,
  3.3e-11, 4.6e-11, 5.8e-11, 3.8e-11, 3.1e-11, 4.4e-11, 5.5e-11, 3.7e-11, 3.2e-11, 4.5e-11, 5.7e-11, 3.8e-11,
  3.1e-11, 4.4e-11, 5.6e-11, 3.7e-11, 1.5e-10, 3.6e-11, 3.2e-11, 4.6e-11, 5.8e-11, 3.8e-11, 3.1e-11, 4.5e-11,
  5.6e-11, 3.6e-11, 3.0e-11, 4.4e-11, 5.7e-11, 3.7e-11, 3.1e-11, 4.4e-11, 5.5e-11, 3.6e-11, 3.0e-11, 8.5e-11,
  3.0e-11, 4.3e-11, 5.6e-11, 3.6e-11, 3.1e-11, 4.4e-11, 3.5e-11, 9.5e-11, 3.0e-11, 4.2e-11, 5.5e-11, 3.5e-11,
  2.9e-11, 4.2e-11, 5.6e-11, 3.6e-11, 3.0e-11, 4.3e-11, 5.4e-11, 3.5e-11, 2.0e-10, 3.6e-11, 3.0e-11, 4.4e-11,
];

// ADE noise references
const ADE_FREQ = [0.01, 0.1, 0.7, 100];
const ADE_1MM = [5e-9, 1e-9, 4e-10, 4e-10];
const ADE_025MM = [7.6e-10, 1.55e-10, 6.2e-11, 6.2e-11];

// axes
const X_DOMAIN = [0.01, 200];
const X_TICKS = [
  0.01, 0.02, 0.03, 0.04, 0.05, 0.06, 0.07, 0.08, 0.09,
  0.1, 0.2, 0.3, 0.4, 0.5, 0.6, 0.7, 0.8, 0.9,
  1, 2, 3, 4, 5, 6, 7, 8, 9,
  10, 20, 30, 40, 50, 60, 70, 80, 90,
  100, 200,
];
const ST1_Y_DOMAIN = [4.47e-11, 1.57e-6];
const ST1_Y_TICKS = [
  5e-11, 6e-11, 7e-11, 8e-11, 9e-11,
  1e-10, 2e-10, 3e-10, 4e-10, 5e-10, 6e-10, 7e-10, 8e-10, 9e-10,
  1e-9, 2e-9, 3e-9, 4e-9, 5e-9, 6e-9, 7e-9, 8e-9, 9e-9,
  1e-8, 2e-8, 3e-8, 4e-8, 5e-8, 6e-8, 7e-8, 8e-8, 9e-8,
  1e-7, 2e-7, 3e-7, 4e-7, 5e-7, 6e-7, 7e-7, 8e-7, 9e-7,
  1e-6,
];
const ST2_Y_DOMAIN = [3.16e-12, 1.1e-6];
const ST2_Y_TICKS = [
  4e-12, 5e-12, 6e-12, 7e-12, 8e-12, 9e-12,
  1e-11, 2e-11, 3e-11, 4e-11, 5e-11, 6e-11, 7e-11, 8e-11, 9e-11,
  1e-10, 2e-10, 3e-10, 4e-10, 5e-10, 6e-10, 7e-10, 8e-10, 9e-10,
  1e-9, 2e-9, 3e-9, 4e-9, 5e-9, 6e-9, 7e-9, 8e-9, 9e-9,
  1e-8, 2e-8, 3e-8, 4e-8, 5e-8, 6e-8, 7e-8, 8e-8, 9e-8,
  1e-7, 2e-7, 3e-7, 4e-7, 5e-7, 6e-7, 7e-7, 8e-7, 9e-7,
  1e-6,
];

const COLORS = ["#1f77b4", "#ff7f0e", "#2ca02c", "#d62728", "#9467bd", "#8c564b"];
const ADE_COLOR = "#e377c2";
const CHANNELS = ["H1", "H2", "H3", "V1", "V2", "V3"];
const ST1_SERIES = [ST1_H1, ST1_H2, ST1_H3, ST1_V1, ST1_V2, ST1_V3];
const ST2_SERIES = [ST2_H1, ST2_H2, ST2_H3, ST2_V1, ST2_V2, ST2_V3];

const FONT = "'DejaVu Sans', Verdana, sans-serif";
const LW = 4.2;

const toPoints = (fs: number[], vs: number[]) => fs.map((f, i) => ({ f, v: vs[i] }));

const isDecade = (v: number) => {
  const l = Math.log10(v);
  return Math.abs(l - Math.round(l)) < 1e-6;
};
const expLabel = (v: number) => {
  const e = Math.round(Math.log10(v));
  return e < 0 ? "\u2212" + -e : String(e);
};

function XTick(props: any) {
  const { x, y, payload } = props;
  const major = isDecade(payload.value);
  return (
    <g>
      <line x1={x} x2={x} y1={y} y2={y + (major ? 4.9 : 2.8)} stroke="#000" strokeWidth={1.1} />
      {major && (
        <text x={x} y={y + 24} textAnchor="middle" fontFamily={FONT} fontSize={11.8} fill="#000">
          10
          <tspan dy={-5.5} fontSize={8.4}>
            {expLabel(payload.value)}
          </tspan>
        </text>
      )}
    </g>
  );
}

function YTick(props: any) {
  const { x, y, payload } = props;
  const major = isDecade(payload.value);
  return (
    <g>
      <line x1={x - (major ? 4.9 : 2.8)} x2={x} y1={y} y2={y} stroke="#000" strokeWidth={1.1} />
      {major && (
        <text x={x - 9.8} y={y + 5} textAnchor="end" fontFamily={FONT} fontSize={11.8} fill="#000">
          10
          <tspan dy={-5.5} fontSize={8.4}>
            {expLabel(payload.value)}
          </tspan>
        </text>
      )}
    </g>
  );
}

type PanelProps = {
  top: number;
  height: number;
  marginTop: number;
  marginBottom: number;
  stage: string;
  series: number[][];
  ade: number[];
  adeName: string;
  yDomain: number[];
  yTicks: number[];
};

function Panel({ top, height, marginTop, marginBottom, stage, series, ade, adeName, yDomain, yTicks }: PanelProps) {
  return (
    <div style={{ position: "absolute", left: 0, top, width: 2400, height }}>
      <LineChart width={2400} height={height} margin={{ top: marginTop, right: 240, bottom: marginBottom, left: 220 }}>
        <CartesianGrid stroke="#b0b0b0" strokeWidth={1.1} />
        <XAxis
          dataKey="f"
          type="number"
          scale="log"
          domain={X_DOMAIN}
          allowDataOverflow
          ticks={X_TICKS}
          interval={0}
          tickSize={0}
          tickMargin={0}
          tickLine={false}
          axisLine={false}
          tick={XTick}
          height={40}
        />
        <YAxis
          type="number"
          scale="log"
          domain={yDomain}
          allowDataOverflow
          ticks={yTicks}
          interval={0}
          tickSize={0}
          tickMargin={0}
          tickLine={false}
          axisLine={false}
          tick={YTick}
          width={80}
        />
        {series.map((vals, i) => (
          <Line
            key={CHANNELS[i]}
            data={toPoints(FREQ, vals)}
            dataKey="v"
            name={`ITMX_${stage}_CPSINF_${CHANNELS[i]}`}
            type="linear"
            stroke={COLORS[i]}
            strokeWidth={LW}
            strokeLinejoin="round"
            dot={false}
            activeDot={false}
            isAnimationActive={false}
          />
        ))}
        <Line
          data={toPoints(ADE_FREQ, ade)}
          dataKey="v"
          name={adeName}
          type="linear"
          stroke={ADE_COLOR}
          strokeWidth={LW}
          dot={false}
          activeDot={false}
          isAnimationActive={false}
        />
        <ReferenceArea
          x1={X_DOMAIN[0]}
          x2={X_DOMAIN[1]}
          y1={yDomain[0]}
          y2={yDomain[1]}
          fill="none"
          fillOpacity={0}
          stroke="#000"
          strokeWidth={1.1}
          ifOverflow="visible"
        />
      </LineChart>
    </div>
  );
}

function LegendBox({ x, y, stage, adeName }: { x: number; y: number; stage: string; adeName: string }) {
  const entries = CHANNELS.map((c, i) => ({ name: `ITMX_${stage}_CPSINF_${c}`, color: COLORS[i] }));
  entries.push({ name: adeName, color: ADE_COLOR });
  return (
    <g>
      <rect x={x} y={y} width={404} height={306} rx={5} fill="#fff" fillOpacity={0.8} stroke="#cccccc" strokeWidth={1} />
      {entries.map((e, i) => {
        const cy = y + 22 + i * 42.9;
        return (
          <g key={e.name}>
            <line x1={x + 9} x2={x + 65} y1={cy} y2={cy} stroke={e.color} strokeWidth={LW} />
            <text x={x + 91} y={cy + 10} fontFamily={FONT} fontSize={27.8} fill="#000">
              {e.name}
            </text>
          </g>
        );
      })}
    </g>
  );
}

export default function App() {
  return (
    <div style={{ position: "absolute", left: 0, top: 0, width: 2400, height: 1600, background: "#fff", overflow: "hidden" }}>
      <Panel
        top={0}
        height={820}
        marginTop={192}
        marginBottom={29}
        stage="ST1"
        series={ST1_SERIES}
        ade={ADE_1MM}
        adeName="ADE 1mm noise"
        yDomain={ST1_Y_DOMAIN}
        yTicks={ST1_Y_TICKS}
      />
      <Panel
        top={800}
        height={700}
        marginTop={65}
        marginBottom={36}
        stage="ST2"
        series={ST2_SERIES}
        ade={ADE_025MM}
        adeName="ADE .25mm noise"
        yDomain={ST2_Y_DOMAIN}
        yTicks={ST2_Y_TICKS}
      />
      <svg width={2400} height={1600} style={{ position: "absolute", left: 0, top: 0, pointerEvents: "none" }}>
        <g fontFamily={FONT} fill="#000">
          <text x={1200} y={60} fontSize={36} textAnchor="middle">CPS Spectra</text>
          <text x={1200} y={99} fontSize={36} textAnchor="middle">1247216400 to 1247217000</text>

          <text x={1230} y={184} fontSize={27.5} textAnchor="middle">ITMX_ST1</text>
          <text x={1230} y={805} fontSize={25} textAnchor="middle">Freq (hz)</text>
          <text x={233} y={471.5} fontSize={25} textAnchor="middle" dominantBaseline="central" transform="rotate(-90 233 471.5)">
            m/rthz
          </text>

          <text x={1230} y={857} fontSize={27.5} textAnchor="middle">ITMX_ST2</text>
          <text x={1230} y={1478} fontSize={25} textAnchor="middle">Freq (hz)</text>
          <text x={233} y={1144.5} fontSize={25} textAnchor="middle" dominantBaseline="central" transform="rotate(-90 233 1144.5)">
            m/rthz
          </text>

          <text x={1222} y={1520} fontSize={16.5} textAnchor="middle">calibration only &gt;10hz</text>
          <text x={2293} y={878} fontSize={16.4} textAnchor="middle" dominantBaseline="central" transform="rotate(-90 2293 878)">
            /opt/rtcds/userapps/trunk/sys/h1/scripts/BSC_cps_spectra.py
          </text>
        </g>
        <LegendBox x={1748} y={207} stage="ST1" adeName="ADE 1mm noise" />
        <LegendBox x={1748} y={879} stage="ST2" adeName="ADE .25mm noise" />
      </svg>
    </div>
  );
}
